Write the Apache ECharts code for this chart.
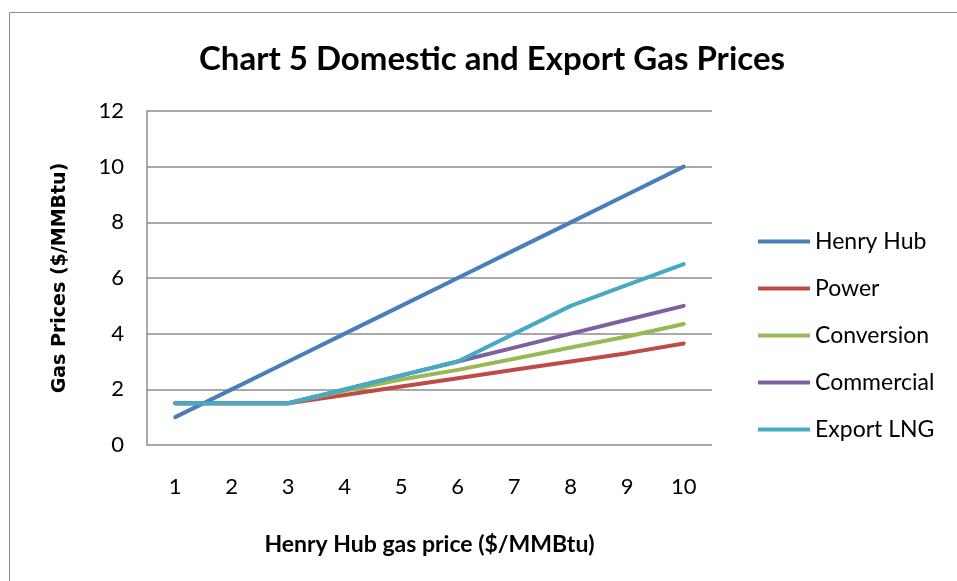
<!DOCTYPE html>
<html>
<head>
<meta charset="utf-8">
<script src="https://cdn.jsdelivr.net/npm/echarts@6/dist/echarts.min.js"></script>
<style>
  html, body { margin: 0; padding: 0; background: #fff; }
  #chart { width: 957px; height: 581px; }
</style>
</head>
<body>
<div id="chart"></div>
<script>
const categories = ['1', '2', '3', '4', '5', '6', '7', '8', '9', '10'];
const henryHub = [1, 2, 3, 4, 5, 6, 7, 8, 9, 10];
const power = [1.5, 1.5, 1.5, 1.8, 2.1, 2.4, 2.7, 3.0, 3.3, 3.65];
const conversion = [1.5, 1.5, 1.5, 1.95, 2.35, 2.7, 3.1, 3.5, 3.9, 4.35];
const commercial = [1.5, 1.5, 1.5, 2.0, 2.5, 3.0, 3.5, 4.0, 4.5, 5.0];
const exportLng = [1.5, 1.5, 1.5, 2.0, 2.5, 3.0, 4.0, 5.0, 5.75, 6.5];

const font = 'Lato, "Open Sans", sans-serif';
const chart = echarts.init(document.getElementById('chart'), null, { renderer: 'canvas' });

const mk = (name, data, color) => ({
  name, type: 'line', data, symbol: 'none', smooth: false,
  lineStyle: { width: 4, color, cap: 'round' },
  itemStyle: { color }
});

chart.setOption({
  animation: false,
  backgroundColor: '#fff',
  title: {
    text: 'Chart 5 Domestic and Export Gas Prices',
    left: 487, top: 38, textAlign: 'center',
    textStyle: { fontFamily: font, fontWeight: 'bold', fontSize: 33, color: '#000' }
  },
  graphic: [{
    type: 'rect', shape: { x: 9.5, y: 12.5, width: 960, height: 580 },
    style: { fill: 'none', stroke: '#8c8c8c', lineWidth: 1 }
  }],
  legend: {
    orient: 'vertical', left: 753, top: 225, itemGap: 24,
    itemWidth: 52, itemHeight: 4,
    icon: 'rect',
    textStyle: { fontFamily: font, fontSize: 23, color: '#000', padding: [0, 0, 0, 0] },
    data: ['Henry Hub', 'Power', 'Conversion', 'Commercial', 'Export LNG']
  },
  grid: { left: 147, right: 245, top: 111, bottom: 136 },
  xAxis: {
    type: 'category', data: categories, boundaryGap: true,
    name: 'Henry Hub gas price ($/MMBtu)', nameLocation: 'middle', nameGap: 88,
    nameTextStyle: { fontFamily: font, fontWeight: 'bold', fontSize: 23, color: '#000' },
    axisLine: { show: false }, axisTick: { show: false },
    axisLabel: { fontFamily: font, fontSize: 22, color: '#000', margin: 31 }
  },
  yAxis: {
    type: 'value', min: 0, max: 12, interval: 2,
    name: 'Gas Prices ($/MMBtu)', nameLocation: 'middle', nameGap: 77, nameRotate: 90,
    nameTextStyle: { fontFamily: '"DejaVu Sans", sans-serif', fontWeight: 'bold', fontSize: 19, color: '#000' },
    axisLine: { show: true, lineStyle: { color: '#8c8c8c', width: 1.5 } },
    axisTick: { show: false },
    axisLabel: { fontFamily: font, fontSize: 22, color: '#000', margin: 23 },
    splitLine: { lineStyle: { color: '#8c8c8c', width: 1.5 } }
  },
  series: [
    mk('Henry Hub', henryHub, '#4a7ebb'),
    mk('Power', power, '#be4b48'),
    mk('Conversion', conversion, '#98b954'),
    mk('Commercial', commercial, '#7d60a0'),
    mk('Export LNG', exportLng, '#46aac5')
  ]
});
</script>
</body>
</html>
